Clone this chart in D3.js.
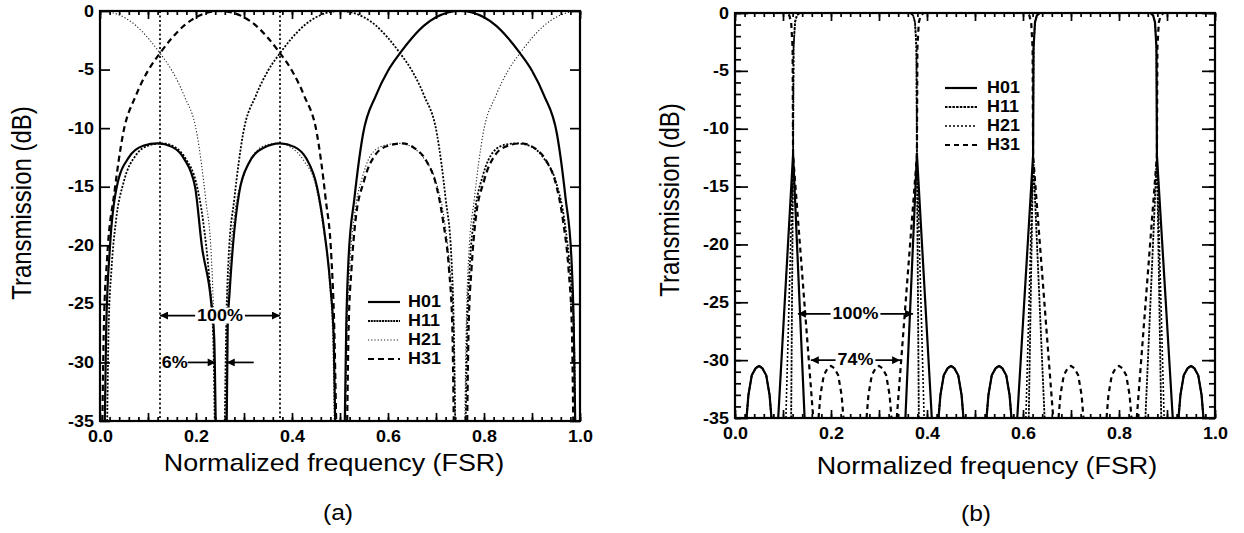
<!DOCTYPE html>
<html><head><meta charset="utf-8">
<script src="https://cdn.jsdelivr.net/npm/d3@7"></script>
<style>
body{margin:0;background:#fff}
svg{display:block}
text{font-family:"Liberation Sans",Arial,Helvetica,sans-serif;fill:#000}
</style>
</head><body>
<svg id="chart" width="1244" height="533"></svg>
<script>
// ---------------- data ----------------
const seriesNames = ["H01", "H11", "H21", "H31"];
const xTickLabels = [0.0, 0.2, 0.4, 0.6, 0.8, 1.0];
const yTickLabels = [0, -5, -10, -15, -20, -25, -30, -35];

// Panel (a)
const a_H01 = [
  [0.01,-35],[0.013,-27],[0.021,-20],[0.035,-15],[0.06,-12.5],[0.09,-11.5],[0.12,-11.3],[0.15,-11.6],[0.175,-12.6],[0.198,-15],[0.212,-20],[0.232,-25],[0.238,-28],[0.241,-35], null,
  [0.264,-35],[0.266,-27],[0.27,-24],[0.277,-20],[0.29,-15.5],[0.31,-13],[0.34,-11.7],[0.375,-11.3],[0.405,-11.6],[0.43,-12.6],[0.452,-15],[0.468,-19],[0.48,-23.5],[0.487,-28],[0.49,-35], null,
  [0.51,-35],[0.513,-27],[0.518,-21],[0.53,-16],[0.548,-10.5],[0.575,-7.2],[0.6,-5.1],[0.625,-3.6],[0.65,-2.3],[0.675,-1.25],[0.7,-0.54],[0.725,-0.13],[0.75,0],[0.775,-0.13],[0.8,-0.54],[0.825,-1.25],[0.85,-2.3],[0.875,-3.6],[0.9,-5.1],[0.925,-7.2],[0.952,-10.5],[0.97,-16],[0.982,-21],[0.987,-27],[0.99,-35]
];
const a_H11 = [
  [0.015,-35],[0.018,-27],[0.024,-22],[0.033,-18],[0.05,-14.5],[0.075,-12.3],[0.1,-11.5],[0.13,-11.3],[0.155,-11.6],[0.18,-12.7],[0.2,-14.6],[0.215,-18],[0.228,-23],[0.236,-28],[0.239,-35], null,
  [0.26,-35],[0.263,-27],[0.268,-21],[0.28,-16],[0.298,-10.5],[0.325,-7.2],[0.35,-5.1],[0.375,-3.6],[0.4,-2.3],[0.425,-1.25],[0.45,-0.54],[0.475,-0.13],[0.5,0],[0.525,-0.13],[0.55,-0.54],[0.575,-1.25],[0.6,-2.3],[0.625,-3.6],[0.65,-5.1],[0.675,-7.2],[0.702,-10.5],[0.72,-16],[0.732,-21],[0.737,-27],[0.74,-35], null,
  [0.762,-35],[0.765,-27],[0.77,-22],[0.78,-17.5],[0.798,-14],[0.82,-12],[0.845,-11.4],[0.868,-11.3],[0.9,-11.6],[0.925,-12.6],[0.95,-14.6],[0.968,-18],[0.98,-22.5],[0.987,-27],[0.99,-35]
];
const a_H21 = [
  [0,0],[0.025,-0.13],[0.05,-0.54],[0.075,-1.25],[0.1,-2.3],[0.125,-3.6],[0.15,-5.1],[0.175,-7.2],[0.202,-10.5],[0.22,-16],[0.232,-21],[0.237,-27],[0.24,-35], null,
  [0.262,-35],[0.265,-27],[0.27,-22],[0.28,-17.5],[0.3,-14],[0.325,-12],[0.35,-11.4],[0.37,-11.3],[0.4,-11.7],[0.425,-12.8],[0.45,-15],[0.465,-18.5],[0.478,-23],[0.485,-28],[0.488,-35], null,
  [0.512,-35],[0.515,-27],[0.52,-22],[0.53,-17.5],[0.548,-14],[0.57,-12],[0.6,-11.4],[0.625,-11.3],[0.65,-11.6],[0.675,-12.6],[0.7,-14.6],[0.718,-18],[0.73,-22.5],[0.737,-27],[0.74,-35], null,
  [0.76,-35],[0.763,-27],[0.768,-21],[0.78,-16],[0.798,-10.5],[0.825,-7.2],[0.85,-5.1],[0.875,-3.6],[0.9,-2.3],[0.925,-1.25],[0.95,-0.54],[0.975,-0.13],[1.0,0]
];
const a_H31 = [
  [0.005,-35],[0.008,-27],[0.015,-21],[0.03,-15.5],[0.048,-10.5],[0.075,-7.2],[0.1,-5.1],[0.125,-3.6],[0.15,-2.3],[0.175,-1.25],[0.2,-0.54],[0.225,-0.13],[0.25,0],[0.275,-0.13],[0.3,-0.54],[0.325,-1.25],[0.35,-2.3],[0.375,-3.6],[0.4,-5.1],[0.425,-7.2],[0.452,-10.5],[0.47,-16],[0.482,-21],[0.488,-27],[0.492,-35], null,
  [0.515,-35],[0.518,-27],[0.524,-22],[0.532,-18],[0.55,-14.5],[0.575,-12.2],[0.6,-11.5],[0.63,-11.3],[0.655,-11.7],[0.68,-12.8],[0.7,-14.8],[0.715,-18],[0.727,-22],[0.734,-27],[0.737,-35], null,
  [0.765,-35],[0.768,-27],[0.774,-22],[0.782,-18],[0.8,-14.5],[0.825,-12.2],[0.85,-11.5],[0.877,-11.3],[0.905,-11.7],[0.93,-12.8],[0.95,-14.8],[0.965,-18],[0.976,-22],[0.983,-27],[0.986,-35]
];
const a_refLines = [0.125, 0.375];

// Panel (b)
const b_H01 = [
  [0.024,-35],[0.028,-33],[0.035,-31.3],[0.043,-30.7],[0.05,-30.5],[0.057,-30.7],[0.065,-31.3],[0.072,-33],[0.076,-35], null,
  [0.09,-35],[0.121,-12.2],[0.145,-35], null,
  [0.355,-35],[0.379,-12.2],[0.41,-35], null,
  [0.424,-35],[0.428,-33],[0.435,-31.3],[0.443,-30.7],[0.45,-30.5],[0.457,-30.7],[0.465,-31.3],[0.472,-33],[0.476,-35], null,
  [0.524,-35],[0.528,-33],[0.535,-31.3],[0.543,-30.7],[0.55,-30.5],[0.557,-30.7],[0.565,-31.3],[0.572,-33],[0.576,-35], null,
  [0.588,-35],[0.621,-12.3],[0.622,-3],[0.625,-0.8],[0.629,-0.2],[0.635,0],[0.865,0],[0.871,-0.2],[0.875,-0.8],[0.878,-3],[0.879,-12.3],[0.912,-35], null,
  [0.924,-35],[0.928,-33],[0.935,-31.3],[0.943,-30.7],[0.95,-30.5],[0.957,-30.7],[0.965,-31.3],[0.972,-33],[0.976,-35]
];
const b_H11 = [
  [0.024,-35],[0.028,-33],[0.035,-31.3],[0.043,-30.7],[0.05,-30.5],[0.057,-30.7],[0.065,-31.3],[0.072,-33],[0.076,-35], null,
  [0.117,-35],[0.121,-12.3],[0.122,-3],[0.125,-0.8],[0.129,-0.2],[0.135,0],[0.365,0],[0.371,-0.2],[0.375,-0.8],[0.378,-3],[0.379,-12.3],[0.383,-35], null,
  [0.424,-35],[0.428,-33],[0.435,-31.3],[0.443,-30.7],[0.45,-30.5],[0.457,-30.7],[0.465,-31.3],[0.472,-33],[0.476,-35], null,
  [0.524,-35],[0.528,-33],[0.535,-31.3],[0.543,-30.7],[0.55,-30.5],[0.557,-30.7],[0.565,-31.3],[0.572,-33],[0.576,-35], null,
  [0.612,-35],[0.621,-12.2],[0.645,-35], null,
  [0.855,-35],[0.879,-12.2],[0.888,-35], null,
  [0.924,-35],[0.928,-33],[0.935,-31.3],[0.943,-30.7],[0.95,-30.5],[0.957,-30.7],[0.965,-31.3],[0.972,-33],[0.976,-35]
];
const b_H21 = [
  [0.024,-35],[0.028,-33],[0.035,-31.3],[0.043,-30.7],[0.05,-30.5],[0.057,-30.7],[0.065,-31.3],[0.072,-33],[0.076,-35], null,
  [0.106,-35],[0.121,-12.3],[0.122,-3],[0.125,-0.8],[0.129,-0.2],[0.135,0],[0.365,0],[0.371,-0.2],[0.375,-0.8],[0.378,-3],[0.379,-12.3],[0.394,-35], null,
  [0.424,-35],[0.428,-33],[0.435,-31.3],[0.443,-30.7],[0.45,-30.5],[0.457,-30.7],[0.465,-31.3],[0.472,-33],[0.476,-35], null,
  [0.524,-35],[0.528,-33],[0.535,-31.3],[0.543,-30.7],[0.55,-30.5],[0.557,-30.7],[0.565,-31.3],[0.572,-33],[0.576,-35], null,
  [0.606,-35],[0.621,-12.3],[0.622,-3],[0.625,-0.8],[0.629,-0.2],[0.635,0],[0.865,0],[0.871,-0.2],[0.875,-0.8],[0.878,-3],[0.879,-12.3],[0.894,-35], null,
  [0.924,-35],[0.928,-33],[0.935,-31.3],[0.943,-30.7],[0.95,-30.5],[0.957,-30.7],[0.965,-31.3],[0.972,-33],[0.976,-35]
];
const b_H31 = [
  [0,0],[0.107,0],[0.113,-0.2],[0.117,-0.8],[0.12,-3],[0.121,-12.3],[0.163,-35], null,
  [0.174,-35],[0.178,-33],[0.185,-31.3],[0.193,-30.7],[0.2,-30.5],[0.207,-30.7],[0.215,-31.3],[0.222,-33],[0.226,-35], null,
  [0.274,-35],[0.278,-33],[0.285,-31.3],[0.293,-30.7],[0.3,-30.5],[0.307,-30.7],[0.315,-31.3],[0.322,-33],[0.326,-35], null,
  [0.337,-35],[0.379,-12.3],[0.38,-3],[0.383,-0.8],[0.387,-0.2],[0.393,0],[0.607,0],[0.613,-0.2],[0.617,-0.8],[0.62,-3],[0.621,-12.3],[0.663,-35], null,
  [0.674,-35],[0.678,-33],[0.685,-31.3],[0.693,-30.7],[0.7,-30.5],[0.707,-30.7],[0.715,-31.3],[0.722,-33],[0.726,-35], null,
  [0.774,-35],[0.778,-33],[0.785,-31.3],[0.793,-30.7],[0.8,-30.5],[0.807,-30.7],[0.815,-31.3],[0.822,-33],[0.826,-35], null,
  [0.837,-35],[0.879,-12.3],[0.88,-3],[0.883,-0.8],[0.887,-0.2],[0.893,0],[1.0,0]
];

// annotations: [x from, x to, dB level, label]
const a_span100 = [0.125, 0.375, -26, "100%"];
const a_gap6 = [0.241, 0.264, -30, "6%"];
const b_span100 = [0.131, 0.371, -26, "100%"];
const b_span74 = [0.158, 0.344, -30, "74%"];

// ---------------- drawing ----------------
const SX = 1.12; // horizontal stretch of the scanned lettering
const svg = d3.select("#chart");
const defs = svg.append("defs");
defs.append("marker").attr("id","arrow").attr("viewBox","0 0 10 10")
  .attr("refX",10).attr("refY",5).attr("markerWidth",12).attr("markerHeight",8)
  .attr("markerUnits","userSpaceOnUse").attr("orient","auto")
  .append("path").attr("d","M0,0 L10,5 L0,10 Z").attr("fill","#000");

const FONT = '"Liberation Sans",Arial,Helvetica,sans-serif';

function stretch(sel, extra) {
  sel.each(function () {
    const t = d3.select(this);
    const tx = +t.attr("x") || 0, ty = +t.attr("y") || 0;
    t.attr("x", 0).attr("y", 0)
      .attr("transform", `translate(${tx},${ty}) scale(${SX},1)` + (extra || ""));
  });
}

function drawPanel(cfg) {
  const x = d3.scaleLinear().domain([0, 1]).range([cfg.left, cfg.right]);
  const y = d3.scaleLinear().domain([-35, 0]).range([cfg.bottom, cfg.top]);
  const g = svg.append("g");
  const clipId = "clip" + cfg.id;
  defs.append("clipPath").attr("id", clipId).append("rect")
    .attr("x", cfg.left).attr("y", cfg.top)
    .attr("width", cfg.right - cfg.left).attr("height", cfg.bottom - cfg.top);

  const xMinor = d3.range(0, 51).map(i => i / 50);
  const xMajor = d3.range(0, 11).map(i => i / 10);
  const yMajor = yTickLabels;
  const yMinor = d3.range(-35, 1);

  function styleAxis(sel) {
    sel.select(".domain").remove();
    sel.selectAll("line").attr("stroke", "#000").attr("stroke-width", 1.7);
    sel.attr("font-family", FONT).attr("font-size", 16).attr("font-weight", "bold");
    sel.selectAll("text").attr("fill", "#000").call(stretch);
  }
  const xFmt = d => (xTickLabels.some(v => Math.abs(v - d) < 1e-9)) ? d.toFixed(1) : "";

  g.append("g").attr("transform", `translate(0,${cfg.bottom})`)
    .call(d3.axisBottom(x).tickValues(xMinor).tickSize(-4).tickFormat("")).call(styleAxis);
  g.append("g").attr("transform", `translate(0,${cfg.top})`)
    .call(d3.axisTop(x).tickValues(xMinor).tickSize(-4).tickFormat("")).call(styleAxis);
  g.append("g").attr("transform", `translate(0,${cfg.bottom})`)
    .call(d3.axisBottom(x).tickValues(xMajor).tickSize(-8).tickPadding(10).tickFormat(xFmt)).call(styleAxis);
  g.append("g").attr("transform", `translate(0,${cfg.top})`)
    .call(d3.axisTop(x).tickValues(xMajor).tickSize(-8).tickFormat("")).call(styleAxis);
  if (cfg.yMinor) {
    g.append("g").attr("transform", `translate(${cfg.left},0)`)
      .call(d3.axisLeft(y).tickValues(yMinor).tickSize(-6).tickFormat("")).call(styleAxis);
    g.append("g").attr("transform", `translate(${cfg.right},0)`)
      .call(d3.axisRight(y).tickValues(yMinor).tickSize(-6).tickFormat("")).call(styleAxis);
  }
  g.append("g").attr("transform", `translate(${cfg.left},0)`)
    .call(d3.axisLeft(y).tickValues(yMajor).tickSize(-cfg.yMajorLen).tickPadding(6).tickFormat(d => String(d))).call(styleAxis);
  g.append("g").attr("transform", `translate(${cfg.right},0)`)
    .call(d3.axisRight(y).tickValues(yMajor).tickSize(-cfg.yMajorLen).tickFormat("")).call(styleAxis);

  const line = d3.line().defined(d => d != null)
    .x(d => x(d[0])).y(d => y(d[1])).curve(cfg.curve);
  const plot = g.append("g").attr("clip-path", `url(#${clipId})`);

  if (cfg.refLines) {
    plot.selectAll(".ref").data(cfg.refLines).join("line")
      .attr("x1", d => x(d)).attr("x2", d => x(d))
      .attr("y1", y(0)).attr("y2", y(-35))
      .attr("stroke", "#000").attr("stroke-width", 1.7).attr("stroke-dasharray", "2,2.5");
  }
  cfg.series.forEach(s => {
    plot.append("path").datum(s.data).attr("d", line)
      .attr("fill", "none").attr("stroke", s.color || "#000")
      .attr("stroke-width", s.width).attr("stroke-dasharray", s.dash)
      .attr("stroke-linejoin", "round");
  });

  g.append("rect").attr("x", cfg.left).attr("y", cfg.top)
    .attr("width", cfg.right - cfg.left).attr("height", cfg.bottom - cfg.top)
    .attr("fill", "none").attr("stroke", "#000").attr("stroke-width", 2.2);

  // legend
  const legend = g.append("g");
  cfg.series.slice().sort((a, b) => a.order - b.order).forEach((s, i) => {
    const yy = cfg.legend.y0 + i * cfg.legend.dy;
    legend.append("line").attr("x1", cfg.legend.x0).attr("x2", cfg.legend.x1)
      .attr("y1", yy).attr("y2", yy).attr("stroke", s.color || "#000")
      .attr("stroke-width", s.legendWidth || s.width).attr("stroke-dasharray", s.legendDash || s.dash);
    legend.append("text").attr("x", cfg.legend.tx).attr("y", yy)
      .attr("dominant-baseline", "central").attr("font-size", 16).attr("font-weight", "bold")
      .text(s.name).call(stretch);
  });

  // annotations
  cfg.spans.forEach(sp => {
    const [f1, f2, lvl, label] = sp;
    const yy = y(lvl);
    const cx = x((f1 + f2) / 2);
    const bg = g.append("rect").attr("fill", "#fff");
    const t = g.append("text").attr("x", cx).attr("y", yy)
      .attr("text-anchor", "middle").attr("dominant-baseline", "central")
      .attr("font-size", 16).attr("font-weight", "bold").text(label).call(stretch);
    const w = t.node().getComputedTextLength() * SX;
    bg.attr("x", cx - w / 2 - 1).attr("y", yy - 8).attr("width", w + 2).attr("height", 16);
    g.append("line").attr("x1", cx - w / 2 - 2).attr("x2", x(f1)).attr("y1", yy).attr("y2", yy)
      .attr("stroke", "#000").attr("stroke-width", 1.7).attr("marker-end", "url(#arrow)");
    g.append("line").attr("x1", cx + w / 2 + 2).attr("x2", x(f2)).attr("y1", yy).attr("y2", yy)
      .attr("stroke", "#000").attr("stroke-width", 1.7).attr("marker-end", "url(#arrow)");
  });
  if (cfg.gap) {
    const [f1, f2, lvl, label] = cfg.gap;
    const yy = y(lvl);
    g.append("text").attr("x", x(f1) - 28).attr("y", yy)
      .attr("text-anchor", "end").attr("dominant-baseline", "central")
      .attr("font-size", 16).attr("font-weight", "bold").text(label).call(stretch);
    g.append("line").attr("x1", x(f1) - 28).attr("x2", x(f1)).attr("y1", yy).attr("y2", yy)
      .attr("stroke", "#000").attr("stroke-width", 1.7).attr("marker-end", "url(#arrow)");
    g.append("line").attr("x1", x(f2) + 27).attr("x2", x(f2)).attr("y1", yy).attr("y2", yy)
      .attr("stroke", "#000").attr("stroke-width", 1.7).attr("marker-end", "url(#arrow)");
  }

  // titles
  g.append("text").attr("transform", `translate(${cfg.yTitle[0]},${cfg.yTitle[1]}) scale(${SX},1) rotate(-90)`)
    .attr("text-anchor", "middle").attr("dominant-baseline", "central")
    .attr("font-size", 24).text("Transmission (dB)");
  g.append("text").attr("transform", `translate(${cfg.xTitle[0]},${cfg.xTitle[1]}) scale(${SX},1)`)
    .attr("text-anchor", "middle").attr("dominant-baseline", "central")
    .attr("font-size", 24).text("Normalized frequency (FSR)");
  g.append("text").attr("transform", `translate(${cfg.caption[0]},${cfg.caption[1]}) scale(${SX},1)`)
    .attr("text-anchor", "middle").attr("dominant-baseline", "central")
    .attr("font-size", 22).text(cfg.captionText);
}

drawPanel({
  id: "a", left: 100, right: 580, top: 11, bottom: 421, yMinor: false, yMajorLen: 10,
  curve: d3.curveMonotoneX, refLines: a_refLines,
  series: [
    { name: seriesNames[2], order: 2, data: a_H21, width: 1.1, dash: "1.2,2", color: "#222" },
    { name: seriesNames[1], order: 1, data: a_H11, width: 1.8, dash: "2,1.6", legendDash: "2,0.8" },
    { name: seriesNames[3], order: 3, data: a_H31, width: 2.2, dash: "6,4" },
    { name: seriesNames[0], order: 0, data: a_H01, width: 2.2, dash: null }
  ],
  legend: { x0: 368, x1: 400, tx: 408, y0: 302, dy: 19 },
  spans: [a_span100], gap: a_gap6,
  yTitle: [22, 203], xTitle: [334, 463], caption: [338, 512], captionText: "(a)"
});

drawPanel({
  id: "b", left: 735, right: 1215, top: 13, bottom: 418, yMinor: true, yMajorLen: 13,
  curve: d3.curveLinear, refLines: null,
  series: [
    { name: seriesNames[2], order: 2, data: b_H21, width: 1.6, dash: "2,2" },
    { name: seriesNames[1], order: 1, data: b_H11, width: 1.8, dash: "2.5,1.2" },
    { name: seriesNames[3], order: 3, data: b_H31, width: 2.2, dash: "5,4" },
    { name: seriesNames[0], order: 0, data: b_H01, width: 2.2, dash: null }
  ],
  legend: { x0: 945, x1: 977, tx: 987, y0: 88, dy: 19 },
  spans: [b_span100, b_span74], gap: null,
  yTitle: [670, 200], xTitle: [987, 466], caption: [976, 513], captionText: "(b)"
});
</script>
</body></html>
